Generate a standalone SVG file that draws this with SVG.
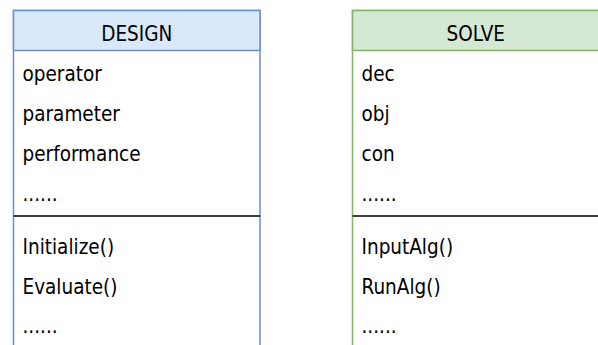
<svg xmlns="http://www.w3.org/2000/svg" width="598" height="345" viewBox="0 0 598 345">
<style>
  text { font-family: "DejaVu Sans Condensed", "DejaVu Sans", Verdana, sans-serif; font-size: 20.5px; fill: #000; }
  .hdr { text-anchor: middle; }
  .blue { stroke: #6c8ebf; stroke-width: 1.5; }
  .green { stroke: #82b366; stroke-width: 1.5; }
  .div { stroke: #000; stroke-width: 1.5; }
</style>
<rect width="598" height="345" fill="#ffffff"/>
<g id="design">
  <rect class="blue" x="13.5" y="10.5" width="246.5" height="350" fill="#ffffff"/>
  <rect class="blue" x="13.5" y="10.5" width="246.5" height="40" fill="#dae8fc"/>
  <text class="hdr" x="136.75" y="40.5">DESIGN</text>
  <text x="22.5" y="80.5">operator</text>
  <text x="22.5" y="120.5">parameter</text>
  <text x="22.5" y="160.5">performance</text>
  <text x="22.5" y="200.5">......</text>
  <line class="div" x1="13.5" y1="216" x2="260" y2="216"/>
  <text x="22.5" y="254">Initialize()</text>
  <text x="22.5" y="294">Evaluate()</text>
  <text x="22.5" y="333">......</text>
</g>
<g id="solve">
  <rect class="green" x="352.5" y="10.5" width="246.5" height="350" fill="#ffffff"/>
  <rect class="green" x="352.5" y="10.5" width="246.5" height="40" fill="#d5e8d4"/>
  <text class="hdr" x="475.75" y="40.5">SOLVE</text>
  <text x="361.5" y="80.5">dec</text>
  <text x="361.5" y="120.5">obj</text>
  <text x="361.5" y="160.5">con</text>
  <text x="361.5" y="200.5">......</text>
  <line class="div" x1="352.5" y1="216" x2="599" y2="216"/>
  <text x="361.5" y="254">InputAlg()</text>
  <text x="361.5" y="294">RunAlg()</text>
  <text x="361.5" y="333">......</text>
</g>
<g id="connectors"/>
</svg>
